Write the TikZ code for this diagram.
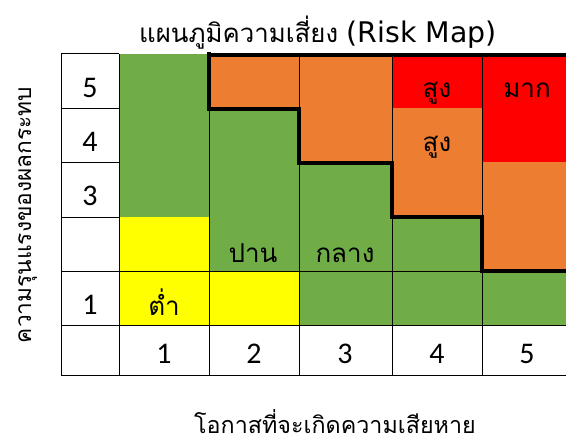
\documentclass[tikz,border=0pt]{standalone}
\usepackage{fontspec}
\setmainfont{Carlito}
\newfontfamily\thaifont[Script=Thai]{Loma}
\newfontfamily\latinfont{DejaVu Sans}
\definecolor{xgreen}{HTML}{70AD47}
\definecolor{xorange}{HTML}{ED7D31}
\definecolor{xred}{HTML}{FF0000}
\definecolor{xyellow}{HTML}{FFFF00}
\tikzset{
  thin line/.style={draw=black, line width=1pt},
  thick line/.style={draw=black, line width=4pt, line join=miter},
  num/.style={font=\fontsize{30}{32}\selectfont, inner sep=0pt, anchor=base},
  cell text/.style={font=\thaifont\fontsize{26}{28}\selectfont, inner sep=0pt, anchor=base},
  axis text/.style={font=\thaifont\fontsize{23.3}{26}\selectfont, inner sep=0pt, anchor=base},
}
\begin{document}
\begin{tikzpicture}[x=1pt, y=-1pt]
\useasboundingbox (0,0) rectangle (566,444);
\begin{scope}
\clip (0,0) rectangle (566,444);
% fills
\fill[xgreen] (119,54) rectangle (209,217);
\fill[xyellow] (119,217) rectangle (209,325);
\fill[xorange] (209,55) rectangle (299,109);
\fill[xgreen] (209,109) rectangle (299,271);
\fill[xyellow] (209,271) rectangle (299,325);
\fill[xorange] (299,55) rectangle (392,163);
\fill[xgreen] (299,163) rectangle (392,325);
\fill[xred] (392,55) rectangle (482,108);
\fill[xorange] (392,108) rectangle (482,217);
\fill[xgreen] (392,217) rectangle (482,325);
\fill[xred] (482,55) rectangle (580,162);
\fill[xorange] (482,162) rectangle (580,271);
\fill[xgreen] (482,271) rectangle (580,325);
% thin lines: label column
\draw[thin line] (61,54) -- (61,375);
\draw[thin line] (119,54) -- (119,375);
\foreach \yy in {54,109,163,217} {\draw[thin line] (61,\yy) -- (119,\yy);}
% full-width rows
\draw[thin line] (61,271) -- (580,271);
\draw[thin line] (61,325) -- (580,325);
\draw[thin line] (61,375) -- (580,375);
% column verticals in bottom rows
\foreach \xx in {209,299,392,482} {\draw[thin line] (\xx,271) -- (\xx,375);}
% other verticals
\draw[thin line] (209,109) -- (209,271);
\draw[thin line] (299,55) -- (299,109);
\draw[thin line] (299,163) -- (299,271);
\draw[thin line] (392,55) -- (392,163);
\draw[thin line] (392,217) -- (392,271);
\draw[thin line] (482,55) -- (482,217);
% thick boundary
\draw[thick line] (209,55) -- (580,55);
\draw[thick line] (209,52) -- (209,109) -- (299,109) -- (299,163) -- (392,163) -- (392,217) -- (482,217) -- (482,271) -- (580,271);
\end{scope}
% numbers
\node[num] (r5) at (90,98) {5};
\node[num] (r4) at (90,152) {4};
\node[num] (r3) at (90,205) {3};
\node[num] (r1) at (90,314) {1};
\node[num] (c1) at (164,363) {1};
\node[num] (c2) at (254,363) {2};
\node[num] (c3) at (345,363) {3};
\node[num] (c4) at (437,363) {4};
\node[num] (c5) at (527,363) {5};
% cell texts
\node[cell text] (t1) at (437,98) {สูง};
\node[cell text] (t2) at (527,98) {มาก};
\node[cell text] (t3) at (437,152) {สูง};
\node[cell text] (t4) at (253,262) {ปาน};
\node[cell text] (t5) at (345,262) {กลาง};
\node[cell text] (t6) at (164,315) {ต่ำ};
% titles
\node[inner sep=0pt, anchor=base] (title) at (318,43) {\thaifont\fontsize{25.8}{28}\selectfont แผนภูมิความเสี่ยง {\latinfont\fontsize{28.4}{28}\selectfont (Risk Map)}};
\node[axis text, text depth=0pt] (xlab) at (335,433) {โอกาสที่จะเกิดความเสียหาย};
\node[axis text, font=\thaifont\fontsize{22.7}{26}\selectfont, rotate=90] (ylab) at (31,215) {ความรุนแรงของผลกระทบ};
\end{tikzpicture}
\end{document}
